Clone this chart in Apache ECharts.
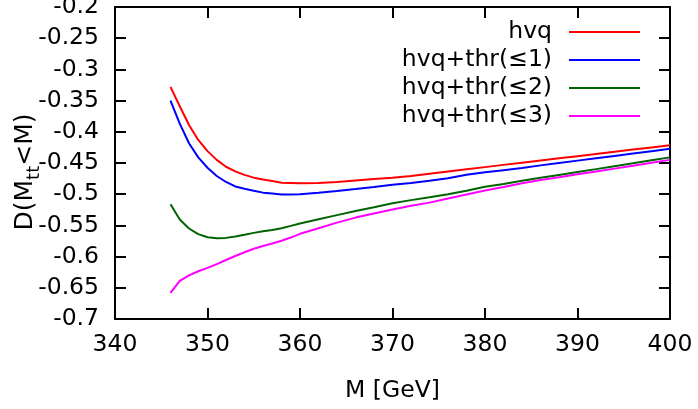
<!DOCTYPE html>
<html>
<head>
<meta charset="utf-8">
<script src="https://cdn.jsdelivr.net/npm/echarts@6/dist/echarts.min.js"></script>
<style>
  html, body { margin: 0; padding: 0; background: #fff; }
  #chart { width: 698px; height: 409px; }
</style>
</head>
<body>
<div id="chart"></div>
<script>
// Invariant-mass points M [GeV]
const mass = [346, 347, 348, 349, 350, 351, 352, 353, 354, 355, 356, 357, 358, 359, 360,
  362, 364, 366, 368, 370, 372, 374, 376, 378, 380, 382, 384, 386, 388, 390,
  392, 394, 396, 398, 400];

// D(M_tt < M) for each prediction
const hvq = [-0.328, -0.359, -0.389, -0.413, -0.431, -0.445, -0.456, -0.4635, -0.469, -0.4735,
  -0.4765, -0.479, -0.4815, -0.482, -0.4825, -0.482, -0.4805, -0.478, -0.4757, -0.4738,
  -0.4708, -0.4673, -0.4637, -0.4602, -0.4566, -0.453, -0.4495, -0.446, -0.4425, -0.439,
  -0.4355, -0.432, -0.4285, -0.425, -0.4215];
const thr1 = [-0.350, -0.387, -0.4184, -0.441, -0.4576, -0.4708, -0.4804, -0.4876, -0.4912, -0.4946,
  -0.4975, -0.499, -0.5005, -0.5005, -0.500, -0.4978, -0.495, -0.4918, -0.4885, -0.485,
  -0.482, -0.4785, -0.4745, -0.469, -0.465, -0.4615, -0.458, -0.4538, -0.450, -0.4462,
  -0.4424, -0.4386, -0.4348, -0.431, -0.4273];
const thr2 = [-0.516, -0.5405, -0.555, -0.564, -0.569, -0.5705, -0.570, -0.5678, -0.565, -0.562,
  -0.5595, -0.5575, -0.5545, -0.5508, -0.547, -0.540, -0.5335, -0.527, -0.521, -0.5145,
  -0.5095, -0.505, -0.500, -0.4945, -0.488, -0.4835, -0.4785, -0.4738, -0.4691, -0.4644,
  -0.4598, -0.4551, -0.4504, -0.4457, -0.441];
const thr3 = [-0.658, -0.639, -0.630, -0.6235, -0.618, -0.612, -0.6055, -0.599, -0.593, -0.5875,
  -0.583, -0.579, -0.5745, -0.5695, -0.5635, -0.5545, -0.5455, -0.5375, -0.531, -0.5245,
  -0.5185, -0.5135, -0.507, -0.5005, -0.494, -0.4885, -0.4825, -0.4774, -0.4728, -0.468,
  -0.4635, -0.459, -0.4543, -0.4497, -0.445];

const seriesNames = ['hvq', 'hvq+thr(\u22641)', 'hvq+thr(\u22642)', 'hvq+thr(\u22643)'];
const seriesColors = ['#ff0000', '#0000ff', '#006400', '#ff00ff'];
const seriesValues = [hvq, thr1, thr2, thr3];

const FONT = 'DejaVu Sans';
const FS = 23.5;

const pairs = vals => mass.map((m, i) => [m, vals[i]]);

const frameAxis = {
  axisLine: { show: true, onZero: false, lineStyle: { color: '#000', width: 2 } },
  axisTick: { show: true, inside: true, length: 11, lineStyle: { color: '#000', width: 2 } },
  splitLine: { show: false }
};

const chart = echarts.init(document.getElementById('chart'), null, { renderer: 'canvas' });
chart.setOption({
  animation: false,
  backgroundColor: '#fff',
  textStyle: { fontFamily: FONT },
  grid: { left: 115, right: 28, top: 7, bottom: 90, containLabel: false, outerBoundsMode: 'none' },
  legend: {
    orient: 'vertical',
    right: 58,
    top: 18,
    padding: 0,
    itemGap: 0,
    align: 'right',
    icon: 'rect',
    itemWidth: 71,
    itemHeight: 2,
    data: seriesNames,
    textStyle: { fontFamily: FONT, fontSize: FS, color: '#000', lineHeight: 28, padding: [0, 12, 0, 0] }
  },
  xAxis: [
    Object.assign({
      type: 'value', position: 'bottom', min: 340, max: 400, interval: 10,
      name: 'M [GeV]', nameLocation: 'middle', nameGap: 60, nameMoveOverlap: false,
      nameTextStyle: { fontFamily: FONT, fontSize: FS, color: '#000' },
      axisLabel: { show: true, margin: 14, fontFamily: FONT, fontSize: FS, color: '#000' }
    }, frameAxis),
    Object.assign({
      type: 'value', position: 'top', min: 340, max: 400, interval: 10,
      axisLabel: { show: false }
    }, frameAxis)
  ],
  yAxis: [
    Object.assign({
      type: 'value', position: 'left', min: -0.7, max: -0.2, interval: 0.05,
      name: '{m|D(M}{s|tt}{m|<M)}', nameLocation: 'middle', nameRotate: 90, nameGap: 72,
      nameMoveOverlap: false,
      nameTextStyle: {
        padding: [0, 18, 0, 0],
        rich: {
          m: { fontFamily: FONT, fontSize: 25, color: '#000', lineHeight: 36 },
          s: { fontFamily: FONT, fontSize: 18, color: '#000', lineHeight: 36, verticalAlign: 'bottom' }
        }
      },
      axisLabel: { show: true, margin: 16, fontFamily: FONT, fontSize: FS, color: '#000' }
    }, frameAxis),
    Object.assign({
      type: 'value', position: 'right', min: -0.7, max: -0.2, interval: 0.05,
      axisLabel: { show: false }
    }, frameAxis)
  ],
  series: seriesNames.map((name, k) => ({
    name: name,
    type: 'line',
    xAxisIndex: 0,
    yAxisIndex: 0,
    data: pairs(seriesValues[k]),
    symbol: 'none',
    smooth: false,
    color: seriesColors[k],
    lineStyle: { color: seriesColors[k], width: 2 }
  }))
});
</script>
</body>
</html>
